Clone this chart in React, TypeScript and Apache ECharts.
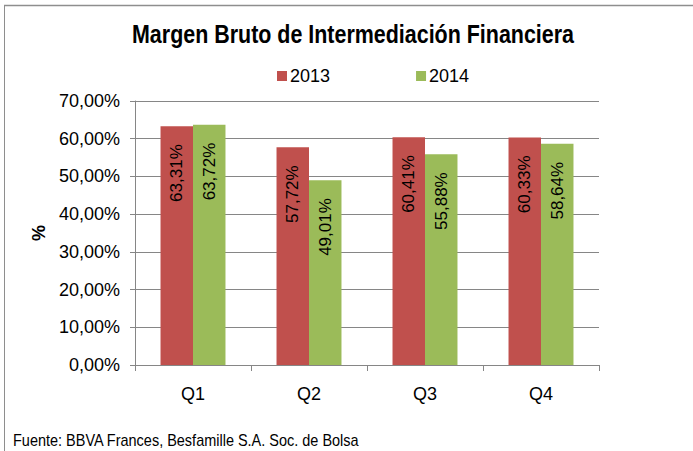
import React, { useEffect, useRef } from "react";
import * as echarts from "echarts";

const categories = ["Q1", "Q2", "Q3", "Q4"];
const series2013 = [63.31, 57.72, 60.41, 60.33];
const series2014 = [63.72, 49.01, 55.88, 58.64];
const seriesNames = ["2013", "2014"];
const yTicks = { min: 0, max: 70, interval: 10 };
const titleText = "Margen Bruto de Intermediación Financiera";
const footerText = "Fuente: BBVA Frances, Besfamille S.A. Soc. de Bolsa";

const fmt = (v: number) => v.toFixed(2).replace(".", ",") + "%";
const FONT = "'Liberation Sans', Arial, sans-serif";

export default function App() {
  const ref = useRef<HTMLDivElement>(null);
  useEffect(() => {
    if (!ref.current) return;
    const chart = echarts.init(ref.current, null, { renderer: "svg" });
    const labelCfg = {
      show: true,
      position: "insideTop" as const,
      rotate: 90,
      align: "right" as const,
      verticalAlign: "middle" as const,
      distance: 18,
      fontFamily: FONT,
      fontSize: 17,
      color: "#000",
      formatter: (p: any) => fmt(p.value),
    };
    chart.setOption({
      animation: false,
      backgroundColor: "#fff",
      textStyle: { fontFamily: FONT },
      legend: {
        left: 272,
        top: 62,
        itemWidth: 10,
        itemHeight: 10,
        itemGap: 86,
        icon: "rect",
        textStyle: { fontFamily: FONT, fontSize: 18, color: "#000", padding: [0, 0, 0, -2] },
        data: seriesNames,
      },
      grid: { left: 135, right: 94, top: 101, bottom: 86, containLabel: false },
      xAxis: {
        type: "category",
        data: categories,
        axisLine: { lineStyle: { color: "#868686", width: 1 } },
        axisTick: { show: true, length: 6, lineStyle: { color: "#868686" } },
        axisLabel: { fontFamily: FONT, fontSize: 18, color: "#000", margin: 20 },
      },
      yAxis: {
        type: "value",
        min: yTicks.min,
        max: yTicks.max,
        interval: yTicks.interval,
        name: "%",
        nameLocation: "middle",
        nameRotate: 90,
        nameGap: 81,
        nameTextStyle: { fontFamily: FONT, fontSize: 18, fontWeight: "bold", color: "#000" },
        axisLine: { show: true, lineStyle: { color: "#868686", width: 1 } },
        axisTick: { show: true, length: 5, lineStyle: { color: "#868686" } },
        splitLine: { show: true, lineStyle: { color: "#868686", width: 1 } },
        axisLabel: { fontFamily: FONT, fontSize: 18, color: "#000", margin: 15, formatter: fmt },
      },
      series: [
        {
          name: seriesNames[0],
          type: "bar",
          data: series2013,
          barGap: "0%",
          barCategoryGap: "44%",
          itemStyle: { color: "#C0504D" },
          label: labelCfg,
        },
        {
          name: seriesNames[1],
          type: "bar",
          data: series2014,
          barGap: "0%",
          barCategoryGap: "44%",
          itemStyle: { color: "#9BBB59" },
          label: labelCfg,
        },
      ],
      graphic: [
        {
          type: "line",
          shape: { x1: 4, y1: 5.5, x2: 693, y2: 5.5 },
          style: { stroke: "#8e8e8e", lineWidth: 1.6 },
        },
        {
          type: "line",
          shape: { x1: 4.5, y1: 5, x2: 4.5, y2: 451 },
          style: { stroke: "#8e8e8e", lineWidth: 1 },
        },
        {
          type: "text",
          x: 353,
          y: 34,
          scaleX: 0.858,
          style: {
            text: titleText,
            font: "bold 25px 'Liberation Sans', Arial, sans-serif",
            fill: "#000",
            textAlign: "center",
            textVerticalAlign: "middle",
          },
        },
        {
          type: "text",
          x: 13,
          y: 440,
          scaleX: 0.905,
          style: {
            text: footerText,
            font: "16px 'Liberation Sans', Arial, sans-serif",
            fill: "#000",
            textAlign: "left",
            textVerticalAlign: "middle",
          },
        },
      ],
    });
    return () => chart.dispose();
  }, []);
  return <div ref={ref} style={{ position: "fixed", left: 0, top: 0, width: 693, height: 451 }} />;
}
